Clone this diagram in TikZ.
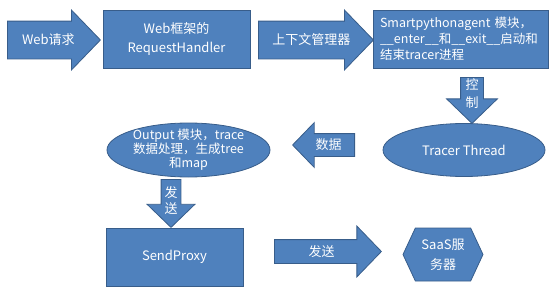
\documentclass[tikz,border=0pt]{standalone}
\usepackage{fontspec}
\setmainfont{Noto Sans CJK SC}
\usepackage{xcolor}
\usepackage{tikz}
\usetikzlibrary{shapes.arrows, shapes.geometric, shapes.symbols, calc}
\definecolor{isi}{RGB}{79,129,189}
\definecolor{garis}{RGB}{56,93,138}

\begin{document}
\begin{tikzpicture}[
    x=1pt, y=-1pt,
    font=\fontsize{13}{16}\selectfont,
    kotak/.style={draw=garis, fill=isi, text=white, line width=0.8pt, inner sep=0pt,
                  align=center},
    elips/.style={kotak, ellipse},
    panah/.style={single arrow, draw=garis, fill=isi, line width=0.8pt,
                  single arrow tip angle=92, anchor=tail},
    teks/.style={text=white, align=center, inner sep=0pt}
  ]
    \useasboundingbox (0,0) rectangle (558,297);
    % baris atas
    \node[kotak, minimum width=147pt, minimum height=58pt,
          font=\fontsize{13}{19}\selectfont] (handler) at (176.5,39)
      {Web框架的\\RequestHandler};
    \node[kotak, minimum width=175pt, minimum height=58pt, align=left,
          text width=161pt, font=\fontsize{12.5}{16}\selectfont] (agen) at (460.5,39)
      {Smartpythonagent 模块，\\\_\_enter\_\_和\_\_exit\_\_启动和\\结束tracer进程};
    % baris tengah
    \node[elips, minimum width=162pt, minimum height=53pt] (tracer) at (464,150)
      {Tracer Thread};
    \node[elips, minimum width=163pt, minimum height=54pt,
          label={[teks, font=\fontsize{12.5}{14}\selectfont]center:Output 模块，trace\\数据处理，生成tree\\和map}]
      (output) at (188.5,150) {};
    % baris bawah
    \node[kotak, minimum width=137pt, minimum height=58pt] (proxy) at (174.5,257)
      {SendProxy};
    \node[kotak, signal, signal to=west and east, signal pointer angle=130,
          minimum width=80pt, minimum height=53pt,
          font=\fontsize{13}{20}\selectfont] (saas) at (443,254.5) {SaaS服\\务器};
    % panah blok
    \node[panah, inner sep=18.5pt, single arrow head extend=11pt,
          minimum height=93pt] (pWeb) at (7,40) {};
    \node[panah, inner sep=18.5pt, single arrow head extend=11pt,
          minimum height=115pt] (pKonteks) at (258,40) {};
    \node[panah, shape border rotate=270, inner sep=11pt, single arrow head extend=14pt,
          minimum height=46pt] (pKontrol) at (472,77) {};
    \node[panah, shape border rotate=180, inner sep=11pt, single arrow head extend=11pt,
          minimum height=62pt] (pData) at (355,145) {};
    \node[panah, shape border rotate=270, inner sep=9.5pt, single arrow head extend=14pt,
          minimum height=48pt] (pKirim) at (171,179) {};
    \node[panah, inner sep=11.5pt, single arrow head extend=13.5pt,
          minimum height=107pt] (pSaas) at (274,251.5) {};
    % teks panah
    \node[teks] (tWeb) at ($(pWeb.tail)!.44!(pWeb.tip)$) {Web请求};
    \node[teks] (tKonteks) at ($(pKonteks.tail)!.46!(pKonteks.tip)$) {上下文管理器};
    \node[teks, font=\fontsize{13}{18}\selectfont] (tKontrol)
      at ($(pKontrol.tail)!.35!(pKontrol.tip)$) {控\\制};
    \node[teks] (tData) at ($(pData.tail)!.42!(pData.tip)$) {数据};
    \node[teks] (tKirim) at ($(pKirim.tail)!.44!(pKirim.tip)$) {发\\送};
    \node[teks] (tSaas) at ($(pSaas.tail)!.44!(pSaas.tip)$) {发送};
  \end{tikzpicture}
\end{document}
